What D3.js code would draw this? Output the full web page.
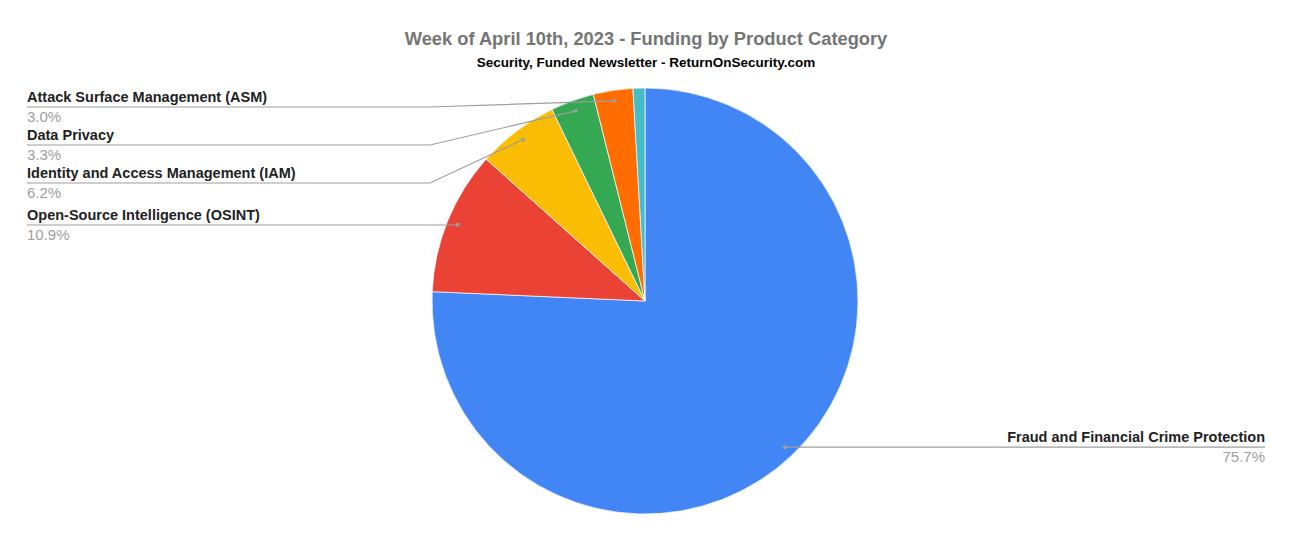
<!DOCTYPE html>
<html><head><meta charset="utf-8">
<script src="https://cdn.jsdelivr.net/npm/d3@7"></script>
<style>body{margin:0;background:#fff}svg{display:block;font-family:"Liberation Sans",Arial,sans-serif}</style>
</head><body><svg id="c" width="1292" height="541"></svg>
<script>
const categories = ["Fraud and Financial Crime Protection","Open-Source Intelligence (OSINT)","Identity and Access Management (IAM)","Data Privacy","Attack Surface Management (ASM)","Other"];
const values = [75.7, 10.9, 6.2, 3.3, 3.0, 0.9];
const colors = ["#4285f4","#ea4335","#fbbc04","#34a853","#ff6d01","#46bdc6"];
const title = "Week of April 10th, 2023 - Funding by Product Category";
const subtitle = "Security, Funded Newsletter - ReturnOnSecurity.com";

const svg = d3.select("#c");
const W = 1292, cx = 645, cy = 301, R = 213;
svg.append("text").attr("x", 646).attr("y", 45).attr("text-anchor","middle")
  .attr("font-size", 18.3).attr("font-weight","bold").attr("fill","#757575").text(title);
svg.append("text").attr("x", 646).attr("y", 67).attr("text-anchor","middle")
  .attr("font-size", 13.5).attr("font-weight","bold").attr("fill","#000").text(subtitle);

const pie = d3.pie().sort(null).value(d => d.v);
const data = pie(categories.map((c,i)=>({c, v: values[i], col: colors[i]})));
const arc = d3.arc().innerRadius(0).outerRadius(R);
const g = svg.append("g").attr("transform", `translate(${cx},${cy})`);
g.selectAll("path").data(data).join("path").attr("d", arc)
  .attr("fill", d => d.data.col).attr("stroke","#fff").attr("stroke-width",0.7);

const inner = d3.arc().innerRadius(R*0.95).outerRadius(R*0.95);
const fmt = d => d3.format(".1f")(d) + "%";
const leftOrder = [4,3,2,1];
const lineYs = [107, 145, 183, 225];
const lg = svg.append("g");
leftOrder.forEach((idx, k) => {
  const d = data[idx];
  const [px, py] = inner.centroid(d);
  const dx = cx + px, dy = cy + py;
  const ly = lineYs[k];
  const elbow = idx === 1 ? dx : 430;
  lg.append("polyline").attr("points", `27,${ly} ${elbow},${ly} ${dx},${dy}`)
    .attr("fill","none").attr("stroke","#9e9e9e").attr("stroke-width",1.2);
  lg.append("circle").attr("cx",dx).attr("cy",dy).attr("r",2).attr("fill","#9e9e9e");
  lg.append("text").attr("x",27).attr("y",ly-5).attr("font-size",14.5).attr("font-weight","bold").attr("fill","#222").text(d.data.c);
  lg.append("text").attr("x",27).attr("y",ly+15).attr("font-size",15).attr("fill","#9e9e9e").text(fmt(d.data.v));
});
{
  const d = data[0];
  const [px, py] = inner.centroid(d);
  const dx = cx + px, dy = cy + py;
  lg.append("line").attr("x1",dx).attr("y1",dy).attr("x2",1265).attr("y2",dy)
    .attr("stroke","#9e9e9e").attr("stroke-width",1.2);
  lg.append("circle").attr("cx",dx).attr("cy",dy).attr("r",2).attr("fill","#9e9e9e");
  lg.append("text").attr("x",1265).attr("y",dy-5).attr("text-anchor","end").attr("font-size",14.5).attr("font-weight","bold").attr("fill","#222").text(d.data.c);
  lg.append("text").attr("x",1265).attr("y",dy+15).attr("text-anchor","end").attr("font-size",15).attr("fill","#9e9e9e").text(fmt(d.data.v));
}
</script></body></html>
